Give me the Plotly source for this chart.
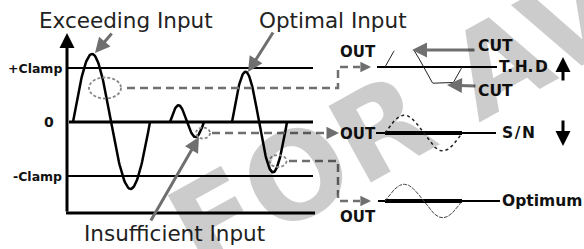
import numpy as np
import plotly.graph_objects as go

# ---------------- data ----------------
clamp_labels = ["+Clamp", "0", "-Clamp"]
clamp_levels = [1.0, 0.0, -1.0]

burst_names = ["Exceeding Input", "Insufficient Input", "Optimal Input"]
burst_start = [73, 170, 232]
burst_mid = [111, 187, 259]
burst_end = [150, 204, 287]
burst_pos_amp = [1.26, 0.31, 0.93]
burst_neg_amp = [1.24, 0.28, 0.93]

out_labels = ["T.\u200aH.\u200aD", "S\u200a/\u200aN", "Optimum"]
out_trend = ["up", "down", ""]
out_amp = [0.44, 0.33, 0.31]
thd_cut_top = 0.31
thd_clip_bottom = 0.30

# ---------------- layout helpers ----------------
W, H = 584, 249
ZERO_PX, UNIT_PX = 122, 54


def lv(px):
    """pixel row -> signal level"""
    return (ZERO_PX - px) / UNIT_PX


GRAY = "#6f6f6f"
FONT = "DejaVu Sans"

fig = go.Figure()


def line(xs, ys, width=2, color="black", dash=None):
    fig.add_trace(go.Scatter(x=xs, y=ys, mode="lines", hoverinfo="skip",
                             line=dict(color=color, width=width, dash=dash),
                             showlegend=False))


def arrow(x0, y0, x1, y1, color=GRAY, width=3, head=2, size=1.0):
    fig.add_annotation(x=x1, y=y1, ax=x0, ay=y0, xref="x", yref="y",
                       axref="x", ayref="y", text="", showarrow=True,
                       arrowhead=head, arrowsize=size, arrowwidth=width,
                       arrowcolor=color)


def label(x, y, txt, size=15.5, bold=True, anchor="center", color="#111"):
    fig.add_annotation(x=x, y=y, xref="x", yref="y", text=txt, showarrow=False,
                       xanchor=anchor, yanchor="middle",
                       font=dict(family=FONT, size=size, color=color,
                                 weight="bold" if bold else "normal"))


X_AXIS, X_END = 67, 313
BOTTOM = lv(213)

# axes
arrow(X_AXIS, BOTTOM, X_AXIS, lv(33), color="black", width=3, head=2, size=1.0)
line([X_AXIS - 1, X_END + 2], [BOTTOM, BOTTOM], width=3)

# clamp / zero lines
for lab, lev in zip(clamp_labels, clamp_levels):
    if lev == 0:
        line([X_AXIS + 2, X_END], [lev, lev], width=3)
        label(49, lev, lab, size=14)
    else:
        line([X_AXIS, X_END], [lev, lev], width=2)
        label(64, lev, lab, size=12.5, anchor="right")

# input bursts
for s, m, e, ap, an in zip(burst_start, burst_mid, burst_end, burst_pos_amp, burst_neg_amp):
    t1 = np.linspace(s, m, 60)
    t2 = np.linspace(m, e, 60)
    y1 = ap * np.sin(np.pi * (t1 - s) / (m - s))
    y2 = -an * np.sin(np.pi * (t2 - m) / (e - m))
    line(np.concatenate([t1, t2[1:]]), np.concatenate([y1, y2[1:]]), width=2.5)

# big labels + pointer arrows
label(126, lv(20), burst_names[0], size=21.5, bold=False, color="#222")
label(333, lv(20), burst_names[2], size=21.5, bold=False, color="#222")
label(174, lv(233), burst_names[1], size=21.5, bold=False, color="#222")
arrow(113, lv(32), 95, lv(53), width=3, size=1.0)
arrow(274, lv(31), 248, lv(72), width=3, size=1.0)
arrow(150, lv(222), 199, lv(137), width=3, size=1.0)

# dashed ellipses
for cx, cy, rx, ry in [(105, 88, 16, 10.5), (203, 133, 7, 5.5), (278, 161, 8.5, 6)]:
    fig.add_shape(type="circle", xref="x", yref="y", x0=cx - rx, x1=cx + rx,
                  y0=lv(cy + ry), y1=lv(cy - ry),
                  line=dict(color="#888", width=1.8, dash="3px,2px"))

# dashed connectors
DASH = "8px,5px"
line([127, 338, 338, 360], [lv(88), lv(88), lv(67), lv(67)], width=2.5, color=GRAY, dash=DASH)
arrow(360, lv(67), 371, lv(67), width=2.5, head=2, size=0.85)
line([212, 326], [lv(133), lv(133)], width=2.5, color=GRAY, dash=DASH)
arrow(326, lv(133), 339, lv(133), width=2.5, head=2, size=1.0)
line([289, 338, 338, 360], [lv(161), lv(161), lv(201), lv(201)], width=2.5, color=GRAY, dash=DASH)
arrow(360, lv(201), 371, lv(201), width=2.5, head=2, size=0.85)

# output rows
row_px = [67, 133, 201]
row_line = [(377, 497), (376, 496), (378, 500)]
row_label_x = [497, 500, 500]
S0, S1 = 385, 462
ts = np.linspace(S0, S1, 160)
ph = np.sin(2 * np.pi * (ts - S0) / (S1 - S0))
for i, (lab, trend, amp) in enumerate(zip(out_labels, out_trend, out_amp)):
    base = lv(row_px[i])
    x0, x1 = row_line[i]
    line([x0, x1], [base, base], width=2)
    rel = amp * ph
    if i == 0:
        rel = np.maximum(rel, -thd_clip_bottom)
        yv = [None if r > thd_cut_top else base + r for r in rel]
        line(ts, yv, width=1, color="#222")
    elif i == 1:
        line([S0, S1], [base, base], width=4)
        line(ts, base + rel, width=1.5, color="#222", dash="dot")
    else:
        line([S0, S1], [base, base], width=4)
        line(ts, base + rel, width=1, color="#444", dash="4px,1px")
    label(row_label_x[i], base, lab, size=15.5, anchor="left")
    if trend == "up":
        arrow(563, lv(82), 563, lv(57), color="black", width=3, head=2, size=1.0)
    elif trend == "down":
        arrow(563, lv(119), 563, lv(146), color="black", width=3, head=2, size=1.0)

label(358, lv(52), "OUT", size=15)
label(358, lv(134), "OUT", size=15)
label(358, lv(217), "OUT", size=15)

# CUT markers
arrow(476, lv(50), 412, lv(50), width=3, size=1.0)
label(476, lv(46), "CUT", anchor="left")
arrow(477, lv(86), 447, lv(85), width=3, size=1.0)
label(476, lv(91), "CUT", anchor="left")

# watermark
fig.add_annotation(x=397, y=lv(120), xref="x", yref="y", text="FOR AV",
                   showarrow=False, textangle=-29, xanchor="center", yanchor="middle",
                   font=dict(family=FONT, size=120, color="rgba(0,0,0,0.2)", weight="bold"))

fig.update_layout(
    width=W, height=H, margin=dict(l=0, r=0, t=0, b=0),
    paper_bgcolor="white", plot_bgcolor="white",
    xaxis=dict(range=[0, W], visible=False, fixedrange=True),
    yaxis=dict(range=[lv(H), lv(0)], visible=False, fixedrange=True),
)
fig.write_html("out.html", config={"displayModeBar": False},
               post_script="document.body.style.margin='0px';document.body.style.overflow='hidden';")
